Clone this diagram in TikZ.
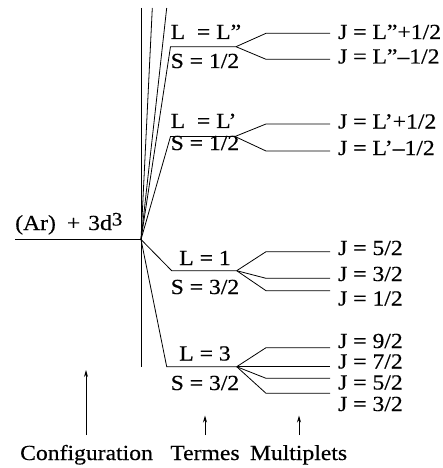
\documentclass[tikz,border=0pt]{standalone}
\usepackage{fontspec}
\setmainfont{Liberation Serif}[FakeStretch=1.1,FakeBold=0.4]
\usetikzlibrary{arrows.meta}
\begin{document}
\begin{tikzpicture}[x=1pt,y=-1pt,
  ln/.style={line width=0.8pt},
  lbl/.style={inner sep=0pt,anchor=base west,font=\fontsize{21.5}{26}\selectfont},
  clbl/.style={inner sep=0pt,anchor=base,font=\fontsize{21.5}{26}\selectfont},
  arr/.style={line width=0.8pt,-{Stealth[length=7pt,width=4pt]}}]
\useasboundingbox (0,0) rectangle (443,468);
% configuration
\coordinate (C0) at (15,239.5);
\coordinate (V) at (141,239.5);
\coordinate (T1) at (141,8);
\coordinate (B1) at (141,367);
\coordinate (T2) at (152.3,8);
\coordinate (T3) at (166.7,8);
\draw[ln] (C0) -- (V);
\draw[ln] (T1) -- (B1);
\draw[ln] (V) -- (T2);
\draw[ln] (V) -- (T3);
% terms
\coordinate (A1) at (170.5,46.7); \coordinate (A2) at (236,46.7);
\coordinate (B1a) at (170.5,136.5); \coordinate (B2) at (235,136.5);
\coordinate (D1) at (171.7,270.7); \coordinate (D2) at (236.7,270.7);
\coordinate (E1) at (166.7,366.7); \coordinate (E2) at (236.7,366.7);
\draw[ln] (V) -- (A1) -- (A2);
\draw[ln] (V) -- (B1a) -- (B2);
\draw[ln] (V) -- (D1) -- (D2);
\draw[ln] (V) -- (E1) -- (E2);
% multiplets
\coordinate (a1) at (266,33.3); \coordinate (a1e) at (330,33.3);
\coordinate (a2) at (266,59.3); \coordinate (a2e) at (330,59.3);
\draw[ln] (A2) -- (a1) -- (a1e);
\draw[ln] (A2) -- (a2) -- (a2e);
\coordinate (b1) at (266,124); \coordinate (b1e) at (330,124);
\coordinate (b2) at (266,151); \coordinate (b2e) at (330,151);
\draw[ln] (B2) -- (b1) -- (b1e);
\draw[ln] (B2) -- (b2) -- (b2e);
\coordinate (d1) at (266,251.7); \coordinate (d1e) at (330,251.7);
\coordinate (d2) at (266,278.3); \coordinate (d2e) at (330,278.3);
\coordinate (d3) at (266,290.7); \coordinate (d3e) at (330,290.7);
\draw[ln] (D2) -- (d1) -- (d1e);
\draw[ln] (D2) -- (d2) -- (d2e);
\draw[ln] (D2) -- (d3) -- (d3e);
\coordinate (e1) at (266,347.7); \coordinate (e1e) at (330,347.7);
\coordinate (e2e) at (330,366.7);
\coordinate (e3) at (266,378.3); \coordinate (e3e) at (330,378.3);
\coordinate (e4) at (266,393.3); \coordinate (e4e) at (330,393.3);
\draw[ln] (E2) -- (e1) -- (e1e);
\draw[ln] (E2) -- (e2e);
\draw[ln] (E2) -- (e3) -- (e3e);
\draw[ln] (E2) -- (e4) -- (e4e);
% labels
\node[lbl] (conf) at (15,230) {(Ar)\hspace{11pt}+\hspace{8pt}3d\raisebox{4.5pt}{\fontsize{19}{20}\selectfont 3}};
\node[lbl] (tA1) at (170.5,39) {L\ \ = L”};
\node[lbl] (tA2) at (170.5,68) {S = 1/2};
\node[lbl] (tB1) at (170.5,128) {L\ \ = L’};
\node[lbl] (tB2) at (170.5,150) {S = 1/2};
\node[clbl] (tD1) at (205,265) {L = 1};
\node[clbl] (tD2) at (205,294) {S = 3/2};
\node[clbl] (tE1) at (205,360.5) {L = 3};
\node[clbl] (tE2) at (205,390) {S = 3/2};
\node[lbl] (j1) at (338,39) {J = L”+1/2};
\node[lbl] (j2) at (338,63.5) {J = L”–1/2};
\node[lbl] (j3) at (338,128.5) {J = L’+1/2};
\node[lbl] (j4) at (338,155) {J = L’–1/2};
\node[lbl] (j5) at (338,255) {J = 5/2};
\node[lbl] (j6) at (338,281) {J = 3/2};
\node[lbl] (j7) at (338,305.5) {J = 1/2};
\node[lbl] (j8) at (338,348) {J = 9/2};
\node[lbl] (j9) at (338,368.5) {J = 7/2};
\node[lbl] (j10) at (338,389.5) {J = 5/2};
\node[lbl] (j11) at (338,411) {J = 3/2};
% bottom
\node[lbl] (cfg) at (20,460) {Configuration};
\node[clbl] (trm) at (205,460) {Termes};
\node[clbl] (mlt) at (298.5,460) {Multiplets};
\coordinate (ca) at (86,435); \coordinate (cat) at (86,370);
\coordinate (ta) at (205,435); \coordinate (tat) at (205,415.5);
\coordinate (ma) at (299,435); \coordinate (mat) at (299,415.5);
\draw[arr] (ca) -- (cat);
\draw[arr] (ta) -- (tat);
\draw[arr] (ma) -- (mat);
\end{tikzpicture}
\end{document}
